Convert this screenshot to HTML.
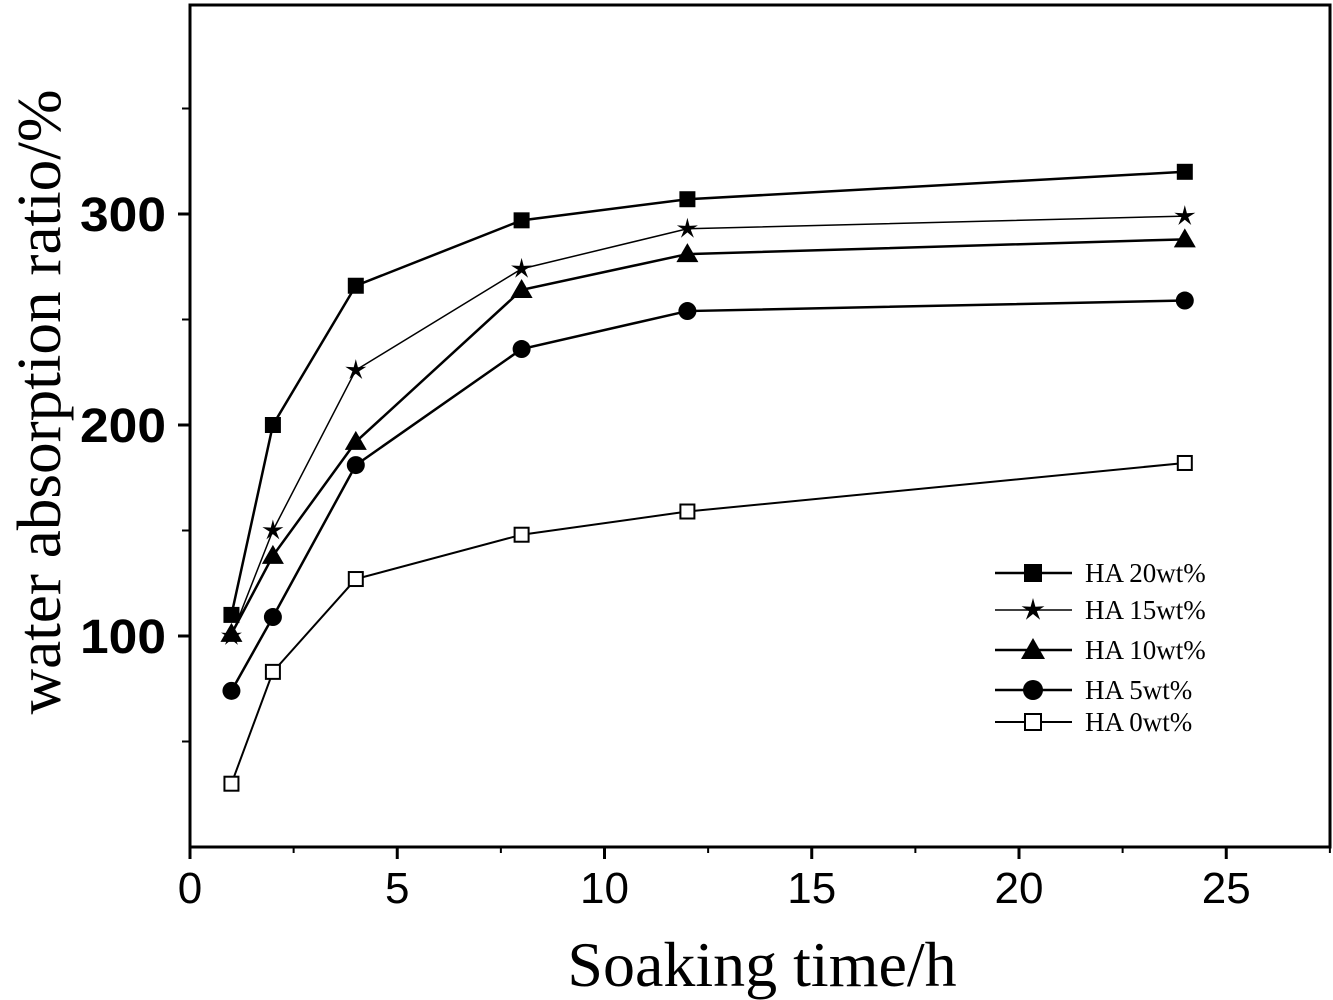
<!DOCTYPE html>
<html><head><meta charset="utf-8"><style>
html,body{margin:0;padding:0;background:#fff;}
svg{display:block;}
</style></head><body>
<svg id="chart" width="1333" height="1000" xmlns="http://www.w3.org/2000/svg"></svg>
<script>
const times = [1, 2, 4, 8, 12, 24];
const ha20 = [110, 200, 266, 297, 307, 320];
const ha15 = [100, 150, 226, 274, 293, 299];
const ha10 = [101, 138, 192, 264, 281, 288];
const ha5 = [74, 109, 181, 236, 254, 259];
const ha0 = [30, 83, 127, 148, 159, 182];
const seriesNames = ["HA 20wt%", "HA 15wt%", "HA 10wt%", "HA 5wt%", "HA 0wt%"];
const xTicks = [0, 5, 10, 15, 20, 25];
const yTicks = [100, 200, 300];
const yMinor = [50, 150, 250, 350];

const NS = "http://www.w3.org/2000/svg";
const svg = document.getElementById("chart");
const X = v => 190 + v * 41.45;
const Y = v => 847 - v * 2.11;
function mk(tag, attrs, parent) {
  const e = document.createElementNS(NS, tag);
  for (const k in attrs) e.setAttribute(k, attrs[k]);
  (parent || svg).appendChild(e);
  return e;
}
const frame = mk("rect", {x:190, y:5, width:1140, height:842, fill:"none", stroke:"#000", "stroke-width":3});


xTicks.forEach(t => {
  const l = mk("line", {x1:X(t), x2:X(t), y1:847, y2:859, stroke:"#000", "stroke-width":3});
  
  
  mk("line", {x1:X(t+2.5), x2:X(t+2.5), y1:847, y2:853, stroke:"#000", "stroke-width":2});
  const tx = mk("text", {x:X(t), y:903, "text-anchor":"middle", "font-family":"Liberation Sans, sans-serif", "font-size":44});
  tx.textContent = t;
  
  
});
yTicks.forEach(t => {
  const l = mk("line", {x1:178, x2:190, y1:Y(t), y2:Y(t), stroke:"#000", "stroke-width":3});
  
  
  const tx = mk("text", {x:166, y:Y(t)+17, "text-anchor":"end", "font-family":"Liberation Sans, sans-serif", "font-size":48, "font-weight":"bold", "textLength":86, "lengthAdjust":"spacingAndGlyphs"});
  tx.textContent = t;
  
  
});
yMinor.forEach(t => {
  const l = mk("line", {x1:182, x2:190, y1:Y(t), y2:Y(t), stroke:"#000", "stroke-width":2});
  
  
});
const xt = mk("text", {x:762, y:986, "text-anchor":"middle", "font-family":"Liberation Serif, serif", "font-size":64});
xt.textContent = "Soaking time/h";


const yt = mk("text", {x:0, y:0, "text-anchor":"middle", "font-family":"Liberation Serif, serif", "font-size":62, "textLength":625, "lengthAdjust":"spacingAndGlyphs", transform:"translate(60,402) rotate(-90)"});
yt.textContent = "water absorption ratio/%";



function marker(kind, cx, cy, s, g) {
  if (kind === "square") return mk("rect", {x:cx-s, y:cy-s, width:2*s, height:2*s, fill:"#000"}, g);
  if (kind === "osquare") return mk("rect", {x:cx-s+1, y:cy-s+1, width:2*s-2, height:2*s-2, fill:"#fff", stroke:"#000", "stroke-width":2}, g);
  if (kind === "circle") return mk("circle", {cx:cx, cy:cy, r:s+1, fill:"#000"}, g);
  if (kind === "tri") return mk("polygon", {points:`${cx},${cy-s-3} ${cx-s-3},${cy+s} ${cx+s+3},${cy+s}`, fill:"#000"}, g);
  if (kind === "star") {
    let p = [];
    for (let i = 0; i < 10; i++) {
      const r = i % 2 ? s*0.45 : s+3;
      const a = -Math.PI/2 + i*Math.PI/5;
      p.push((cx + r*Math.cos(a)).toFixed(1) + "," + (cy + r*Math.sin(a)).toFixed(1));
    }
    return mk("polygon", {points:p.join(" "), fill:"#000"}, g);
  }
}
const allSeries = [ha20, ha15, ha10, ha5, ha0];
const kinds = ["square", "star", "tri", "circle", "osquare"];
const widths = [2.5, 1.5, 2.5, 2.5, 2];
allSeries.forEach((vals, si) => {
  const g = mk("g", {});
  
  
  mk("polyline", {points: vals.map((v,i) => X(times[i]) + "," + Y(v)).join(" "), fill:"none", stroke:"#000", "stroke-width":widths[si]}, g);
  vals.forEach((v,i) => {
    const m = marker(kinds[si], X(times[i]), Y(v), 8, g);
    
    
  });
});
const legY = [573, 610, 650, 690, 722];
seriesNames.forEach((n, i) => {
  const g = mk("g", {});
  
  
  mk("line", {x1:995, x2:1072, y1:legY[i], y2:legY[i], stroke:"#000", "stroke-width":widths[i]}, g);
  marker(kinds[i], 1033, legY[i], 9, g);
  const t = mk("text", {x:1085, y:legY[i]+9, "font-family":"Liberation Serif, serif", "font-size":27}, g);
  t.textContent = n;
});
</script>
</body></html>
